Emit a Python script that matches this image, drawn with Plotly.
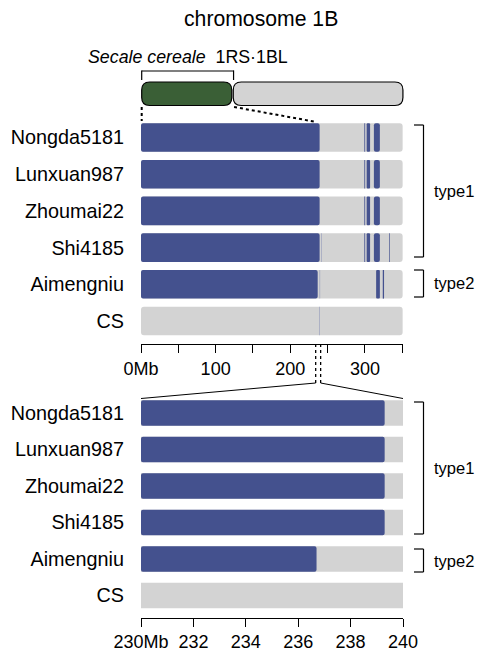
import plotly.graph_objects as go

# ---------------- data ----------------
cultivars = ["Nongda5181", "Lunxuan987", "Zhoumai22", "Shi4185", "Aimengniu", "CS"]
chrom_length_mb = 350.5
zoom_window_mb = [230, 240]
ideo_short_arm_end_mb = 122          # schematic 1RS / 1BL junction on the ideogram

# introgressed (Secale-derived) segments, Mb
seg_cultivar = ["Nongda5181"] * 4 + ["Lunxuan987"] * 4 + ["Zhoumai22"] * 4 + ["Shi4185"] * 5 + ["Aimengniu"] * 3
seg_start = [0, 299.2, 302.3, 312.0,
             0, 299.2, 302.3, 312.0,
             0, 299.2, 302.3, 312.0,
             0, 299.2, 302.3, 312.0, 332.4,
             0, 315.0, 323.9]
seg_end = [239.3, 300.3, 306.9, 320.0,
           239.3, 300.3, 306.9, 320.0,
           239.3, 300.3, 306.9, 320.0,
           239.3, 300.3, 306.9, 320.0, 333.3,
           236.7, 320.0, 325.6]

# faint marks visible in the whole-chromosome view
mark_cultivar = ["Shi4185", "Aimengniu", "CS"]
mark_pos = [242.0, 239.6, 239.4]

top_ticks = [0, 50, 100, 150, 200, 250, 300, 350]
top_ticklabels = ["0Mb", "", "100", "", "200", "", "300", ""]
bottom_ticks = [230, 232, 234, 236, 238, 240]
bottom_ticklabels = ["230Mb", "232", "234", "236", "238", "240"]

groups = ["type1", "type2"]

# ---------------- style / layout constants ----------------
W, H = 479, 657
ML, MR = 141, 76
PW = W - ML - MR
BLUE = "#44518e"
GRAY = "#d3d3d3"
GREEN = "#3a5f36"
FONT = "Liberation Sans, Arial, sans-serif"
TOP_RANGE = [0, 351]


def px_to_paper_x(px):
    return (px - ML) / PW


def py_to_paper_y(py):
    return 1 - py / H


def mb_top_px(v):
    return ML + (v - TOP_RANGE[0]) / (TOP_RANGE[1] - TOP_RANGE[0]) * PW


fig = go.Figure()

# --- top panel (whole chromosome) ---
fig.add_trace(go.Bar(
    y=cultivars, x=[chrom_length_mb] * len(cultivars), base=[0] * len(cultivars),
    orientation="h", width=0.78, marker=dict(color=GRAY, line=dict(width=0), cornerradius=3),
    xaxis="x", yaxis="y", hoverinfo="skip"))
fig.add_trace(go.Bar(
    y=mark_cultivar, x=[0.7] * len(mark_pos), base=[p - 0.35 for p in mark_pos],
    orientation="h", width=0.78, marker=dict(color="#8a91b6", line=dict(width=0)),
    xaxis="x", yaxis="y", hoverinfo="skip"))
fig.add_trace(go.Bar(
    y=seg_cultivar, x=[e - s for s, e in zip(seg_start, seg_end)], base=seg_start,
    orientation="h", width=0.78, marker=dict(color=BLUE, line=dict(width=0), cornerradius=2),
    xaxis="x", yaxis="y", hoverinfo="skip"))

# --- bottom panel (230-240 Mb window) ---
z0, z1 = zoom_window_mb
fig.add_trace(go.Bar(
    y=cultivars, x=[z1 - z0] * len(cultivars), base=[z0] * len(cultivars),
    orientation="h", width=0.70, marker=dict(color=GRAY, line=dict(width=0)),
    xaxis="x2", yaxis="y2", hoverinfo="skip"))
bc, bb, bl = [], [], []
for c, s, e in zip(seg_cultivar, seg_start, seg_end):
    s2, e2 = max(s, z0), min(e, z1)
    if e2 > s2:
        bc.append(c); bb.append(s2); bl.append(e2 - s2)
fig.add_trace(go.Bar(
    y=bc, x=bl, base=bb, orientation="h", width=0.70,
    marker=dict(color=BLUE, line=dict(width=0), cornerradius=2),
    xaxis="x2", yaxis="y2", hoverinfo="skip"))

axis_common = dict(showgrid=False, zeroline=False, showline=True, linecolor="black", linewidth=1,
                   ticks="outside", ticklen=8, tickwidth=1, tickcolor="black",
                   tickfont=dict(family=FONT, size=18, color="black"), fixedrange=True)
yaxis_common = dict(type="category", categoryorder="array", categoryarray=cultivars[::-1],
                    showgrid=False, zeroline=False, showline=False, ticks="",
                    tickfont=dict(family=FONT, size=19.8, color="black"), ticklabelstandoff=16,
                    fixedrange=True)

fig.update_layout(
    width=W, height=H, margin=dict(l=ML, r=MR, t=0, b=0, autoexpand=False),
    paper_bgcolor="white", plot_bgcolor="white", barmode="overlay", showlegend=False,
    font=dict(family=FONT, color="black"),
    xaxis=dict(domain=[0, 1], range=TOP_RANGE, anchor="y", tickmode="array",
               tickvals=top_ticks, ticktext=top_ticklabels, **axis_common),
    yaxis=dict(domain=[py_to_paper_y(344), py_to_paper_y(119.15)], range=[-0.627, 5.5],
               anchor="x", **yaxis_common),
    xaxis2=dict(domain=[0, 1], range=zoom_window_mb, anchor="y2", tickmode="array",
                tickvals=bottom_ticks, ticktext=bottom_ticklabels, **axis_common),
    yaxis2=dict(domain=[py_to_paper_y(617.7), py_to_paper_y(394.75)], range=[-0.608, 5.5],
                anchor="x2", **yaxis_common),
)

shapes = []


def line_px(x0, y0, x1, y1, width=1.0, dash="solid", color="black"):
    shapes.append(dict(type="line", xref="paper", yref="paper",
                       x0=px_to_paper_x(x0), y0=py_to_paper_y(y0),
                       x1=px_to_paper_x(x1), y1=py_to_paper_y(y1),
                       line=dict(color=color, width=width, dash=dash)))


def rounded_rect_px(x0, y0, x1, y1, r, fill):
    def P(x, y):
        return f"{px_to_paper_x(x):.5f},{py_to_paper_y(y):.5f}"
    path = (f"M {P(x0 + r, y0)} L {P(x1 - r, y0)} Q {P(x1, y0)} {P(x1, y0 + r)} "
            f"L {P(x1, y1 - r)} Q {P(x1, y1)} {P(x1 - r, y1)} "
            f"L {P(x0 + r, y1)} Q {P(x0, y1)} {P(x0, y1 - r)} "
            f"L {P(x0, y0 + r)} Q {P(x0, y0)} {P(x0 + r, y0)} Z")
    shapes.append(dict(type="path", xref="paper", yref="paper", path=path,
                       fillcolor=fill, line=dict(color="black", width=1.2)))


# ideogram
ix0 = mb_top_px(0) + 0.7
ixb = mb_top_px(ideo_short_arm_end_mb)
ix1 = mb_top_px(chrom_length_mb) + 0.3
rounded_rect_px(ixb + 1.2, 82, ix1, 105.5, 8, GRAY)
rounded_rect_px(ix0, 82, ixb - 0.3, 105.5, 8, GREEN)

# bracket above short arm
line_px(ix0, 71, ixb + 1.5, 71, 1.2)
line_px(ix0, 70.4, ix0, 80, 1.2)
line_px(ixb + 1.5, 70.4, ixb + 1.5, 80, 1.2)

# dotted projection of 1RS onto the bars
line_px(ix0, 107, ix0, 121, 2, "dot")
line_px(ixb + 2, 107, mb_top_px(seg_end[0]) - 3, 122, 2, "dot")

# zoom window connectors (as drawn in the reference, slightly inset)
zx0, zx1 = mb_top_px(z0) + 3, mb_top_px(z1) + 0.5
line_px(zx0, 344, zx0, 383, 1.3, "dot")
line_px(zx1, 344, zx1, 383, 1.3, "dot")
line_px(zx0, 383, ML, 398.5, 1)
line_px(zx1, 383, ML + PW, 398.5, 1)

# right brackets
brackets = [(125, 257), (270, 297), (402, 534), (549, 572)]
for (ya, yb) in brackets:
    line_px(414, ya, 423.5, ya, 1.2)
    line_px(423.5, ya, 423.5, yb, 1.2)
    line_px(414, yb, 423.5, yb, 1.2)

fig.update_layout(shapes=shapes)

ann = []


def text_px(x, y, s, size, xanchor="center"):
    ann.append(dict(x=px_to_paper_x(x), y=py_to_paper_y(y), xref="paper", yref="paper",
                    text=s, showarrow=False, xanchor=xanchor, yanchor="middle",
                    font=dict(family=FONT, size=size, color="black")))


text_px(261, 19, "chromosome 1B", 21.2)
text_px(188, 57, "<i>Secale cereale</i>\u00a0\u00a01RS\u00b71BL", 17.8)
label_y = [191, 283.5, 468, 561]
for g, yy in zip(groups + groups, label_y):
    text_px(432, yy, g, 16.5, "left")

fig.update_layout(annotations=ann)

fig.write_html("out.html", config={"displayModeBar": False, "staticPlot": True},
               post_script="document.body.style.margin='0';document.body.style.overflow='hidden';")
